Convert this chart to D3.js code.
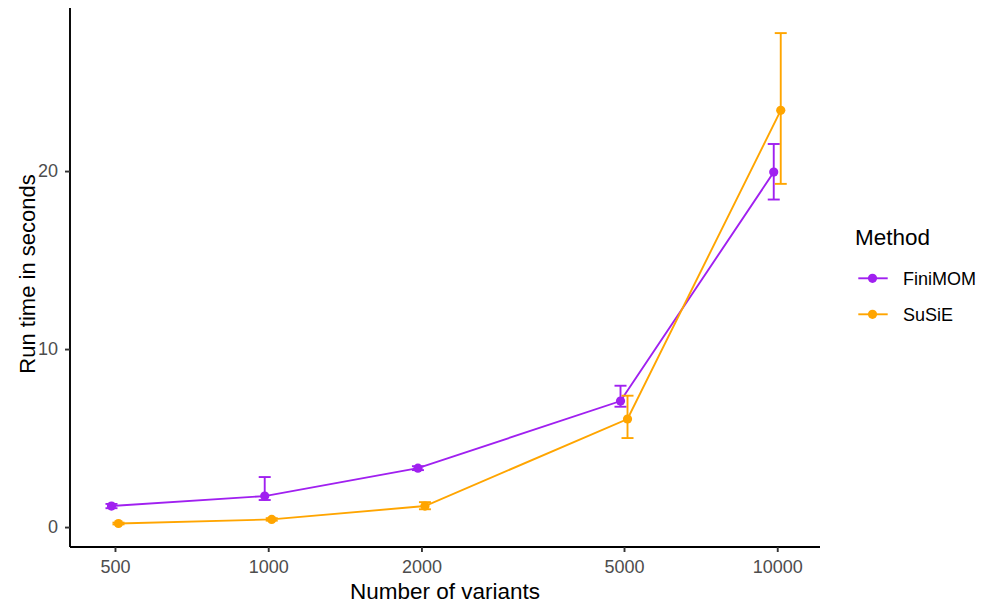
<!DOCTYPE html>
<html>
<head>
<meta charset="utf-8">
<script src="https://cdn.jsdelivr.net/npm/d3@7"></script>
<style>
  body { margin: 0; background: #fff; }
  svg { font-family: "Liberation Sans", Arial, sans-serif; }
</style>
</head>
<body>
<div class="chart"></div>
<script>
// data
var variants = [500, 1000, 2000, 5000, 10000];
var methods = ["FiniMOM", "SuSiE"];
var colors = ["#A020F0", "#FFA500"];

var finimomMean = [1.18, 1.74, 3.31, 7.08, 19.94];
var finimomLow  = [1.06, 1.52, 3.20, 6.76, 18.40];
var finimomHigh = [1.30, 2.81, 3.42, 7.94, 21.52];

var susieMean = [0.20, 0.43, 1.18, 6.07, 23.41];
var susieLow  = [0.15, 0.36, 1.00, 5.00, 19.28];
var susieHigh = [0.25, 0.50, 1.40, 7.38, 27.75];

var yTicks = [0, 10, 20];

var series = [
  { name: methods[0], color: colors[0], mean: finimomMean, lo: finimomLow, hi: finimomHigh, dodge: -3.5 },
  { name: methods[1], color: colors[1], mean: susieMean, lo: susieLow, hi: susieHigh, dodge: 3.5 }
];

var W = 983, H = 607;
var margin = {top: 8, right: 163, bottom: 60, left: 70},
    width = W - margin.left - margin.right,
    height = H - margin.top - margin.bottom;

var svg = d3.select(".chart").append("svg")
    .attr("width", W)
    .attr("height", H);

var x = d3.scaleLog().domain([Math.pow(10, 2.6106), Math.pow(10, 4.084)]).range([0, width]);
var y = d3.scaleLinear().domain([-1.12, 29.16]).range([height, 0]);

var g = svg.append("g")
    .attr("transform", "translate(" + margin.left + "," + margin.top + ")");

// axes
var xAxis = g.append("g")
    .attr("transform", "translate(0," + height + ")")
    .call(d3.axisBottom(x).tickValues(variants).tickFormat(d3.format("d")).tickSizeOuter(0).tickSize(5).tickPadding(8.5));
var yAxis = g.append("g")
    .call(d3.axisLeft(y).tickValues(yTicks).tickSizeOuter(0).tickSize(5).tickPadding(7));

[xAxis, yAxis].forEach(function(a) {
  a.attr("font-size", null).attr("font-family", null);
  a.select(".domain").attr("stroke", "#000").attr("stroke-width", 1.9);
  a.selectAll(".tick line").attr("stroke", "#333").attr("stroke-width", 1.9);
  a.selectAll(".tick text").attr("fill", "#4D4D4D").style("font-size", "18px");
});
// extend domain lines like ggplot's axis.line
xAxis.select(".domain").attr("d", "M0,0H" + width);
yAxis.select(".domain").attr("d", "M0,0V" + height);

// axis titles
svg.append("text")
    .attr("x", margin.left + width / 2)
    .attr("y", 599)
    .attr("text-anchor", "middle")
    .style("font-size", "22.5px")
    .text("Number of variants");
svg.append("text")
    .attr("transform", "translate(35,274) rotate(-90)")
    .attr("text-anchor", "middle")
    .style("font-size", "22px")
    .text("Run time in seconds");

var line = d3.line()
    .x(function(d) { return x(d.v) + d.dx; })
    .y(function(d) { return y(d.m); });

series.forEach(function(s) {
  var pts = variants.map(function(v, i) {
    return { v: v, m: s.mean[i], lo: s.lo[i], hi: s.hi[i], dx: s.dodge };
  });

  g.append("path")
      .datum(pts)
      .attr("fill", "none")
      .attr("stroke", s.color)
      .attr("stroke-width", 1.9)
      .attr("d", line);

  var eb = g.selectAll(".eb-" + s.name)
    .data(pts)
    .enter().append("g")
      .attr("stroke", s.color)
      .attr("stroke-width", 1.9);
  eb.append("line")
      .attr("x1", function(d) { return x(d.v) + d.dx; })
      .attr("x2", function(d) { return x(d.v) + d.dx; })
      .attr("y1", function(d) { return y(d.lo); })
      .attr("y2", function(d) { return y(d.hi); });
  eb.append("line")
      .attr("x1", function(d) { return x(d.v) + d.dx - 6; })
      .attr("x2", function(d) { return x(d.v) + d.dx + 6; })
      .attr("y1", function(d) { return y(d.lo); })
      .attr("y2", function(d) { return y(d.lo); });
  eb.append("line")
      .attr("x1", function(d) { return x(d.v) + d.dx - 6; })
      .attr("x2", function(d) { return x(d.v) + d.dx + 6; })
      .attr("y1", function(d) { return y(d.hi); })
      .attr("y2", function(d) { return y(d.hi); });

  g.selectAll(".pt-" + s.name)
    .data(pts)
    .enter().append("circle")
      .attr("cx", function(d) { return x(d.v) + d.dx; })
      .attr("cy", function(d) { return y(d.m); })
      .attr("r", 4.6)
      .attr("fill", s.color);
});

// legend
var legend = svg.append("g").attr("transform", "translate(855,0)");
legend.append("text")
    .attr("x", 0)
    .attr("y", 245)
    .style("font-size", "22.5px")
    .text("Method");
series.forEach(function(s, i) {
  var ly = 278.3 + i * 36;
  legend.append("line")
      .attr("x1", 3.3).attr("x2", 32.7)
      .attr("y1", ly).attr("y2", ly)
      .attr("stroke", s.color).attr("stroke-width", 1.9);
  legend.append("circle")
      .attr("cx", 17.5).attr("cy", ly).attr("r", 4.6)
      .attr("fill", s.color);
  legend.append("text")
      .attr("x", 48)
      .attr("y", ly + 6.5)
      .style("font-size", "18px")
      .text(s.name);
});
</script>
</body>
</html>
